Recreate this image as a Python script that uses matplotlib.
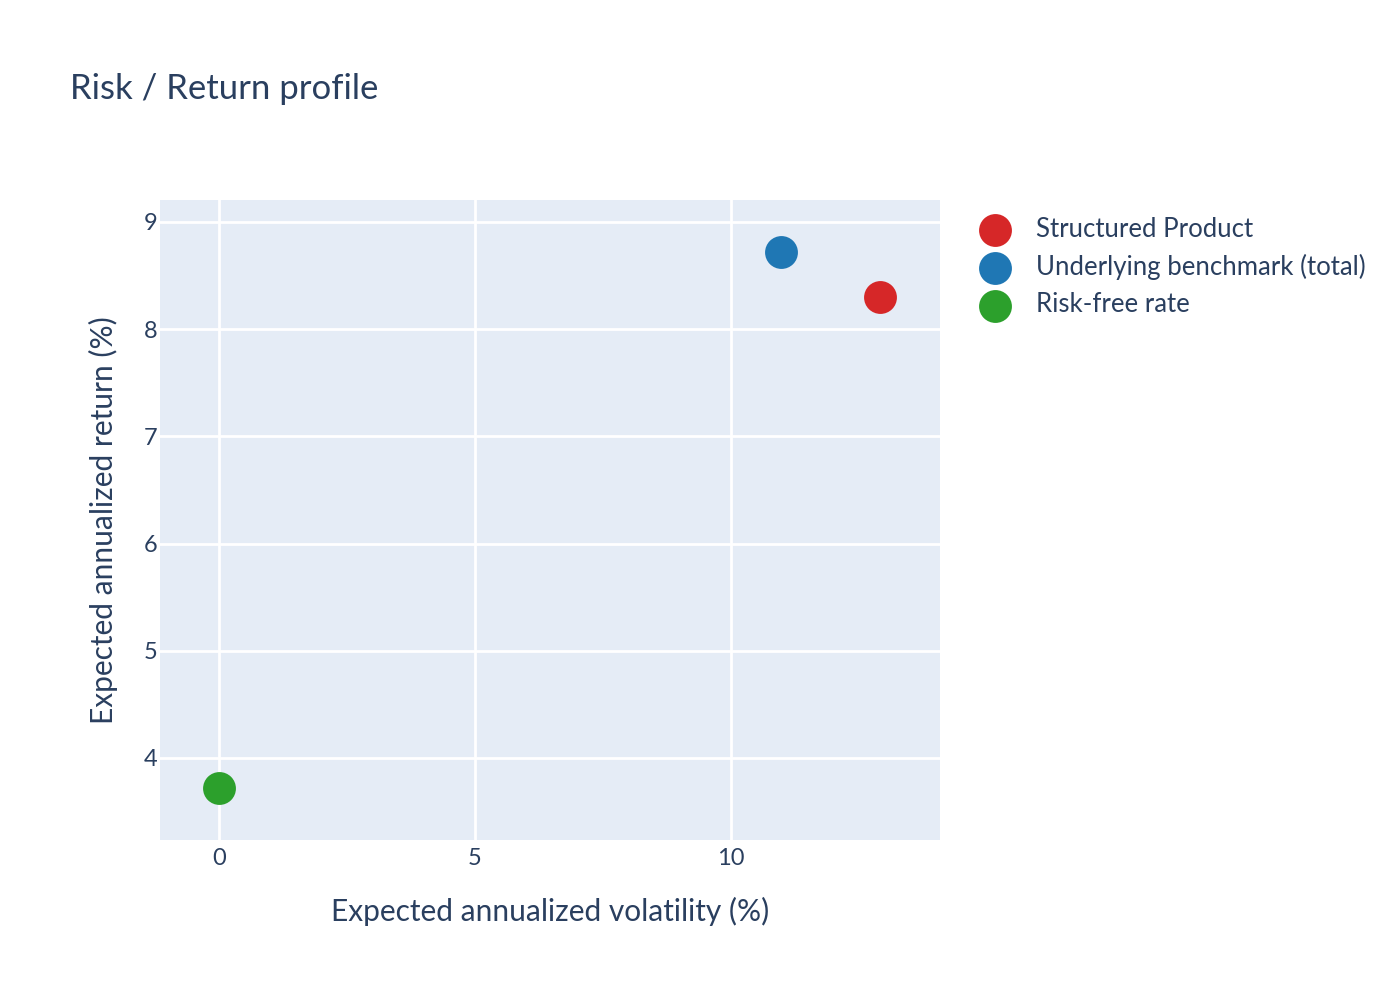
import matplotlib
matplotlib.use("Agg")
import matplotlib.pyplot as plt

names = ["Structured Product", "Underlying benchmark (total)", "Risk-free rate"]
volatility = [12.91, 10.98, 0.0]
returns = [8.30, 8.72, 3.72]
colors = ["#d62728", "#1f77b4", "#2ca02c"]
xticks = [0, 5, 10]
yticks = [4, 5, 6, 7, 8, 9]

plt.rcParams['font.family'] = ['Lato', 'DejaVu Sans']
txt = "#2a3f5f"

fig = plt.figure(figsize=(14, 10), dpi=100)
ax = fig.add_axes([160/1400, 1-840/1000, 780/1400, 640/1000])
ax.set_facecolor("#E5ECF6")
for s in ax.spines.values():
    s.set_visible(False)

for n, x, y, c in zip(names, volatility, returns, colors):
    ax.scatter([x], [y], s=560, color=c, label=n, zorder=3, linewidths=0)

ax.set_xlim(-1.152, 14.08)
ax.set_ylim(3.235, 9.205)
ax.set_xticks(xticks)
ax.set_yticks(yticks)
ax.grid(True, color="white", linewidth=2, zorder=0)
ax.set_axisbelow(True)
ax.tick_params(axis="x", length=0, labelsize=17, colors=txt, pad=6)
ax.tick_params(axis="y", length=0, labelsize=17, colors=txt, pad=2)
ax.set_xlabel("Expected annualized volatility (%)", fontsize=21.5, color=txt, labelpad=20)
ax.set_ylabel("Expected annualized return (%)", fontsize=21.5, color=txt, labelpad=18)

fig.text(70/1400, 1-89/1000, "Risk / Return profile", fontsize=25, color=txt, va="center", ha="left")

leg = ax.legend(loc="upper left", bbox_to_anchor=(969/1400, 1-217/1000),
                bbox_transform=fig.transFigure, frameon=False, fontsize=18.5,
                labelcolor=txt, handletextpad=0.6, labelspacing=0.47,
                borderaxespad=0, borderpad=0, markerscale=1.0)

fig.savefig("out.png", dpi=100)
